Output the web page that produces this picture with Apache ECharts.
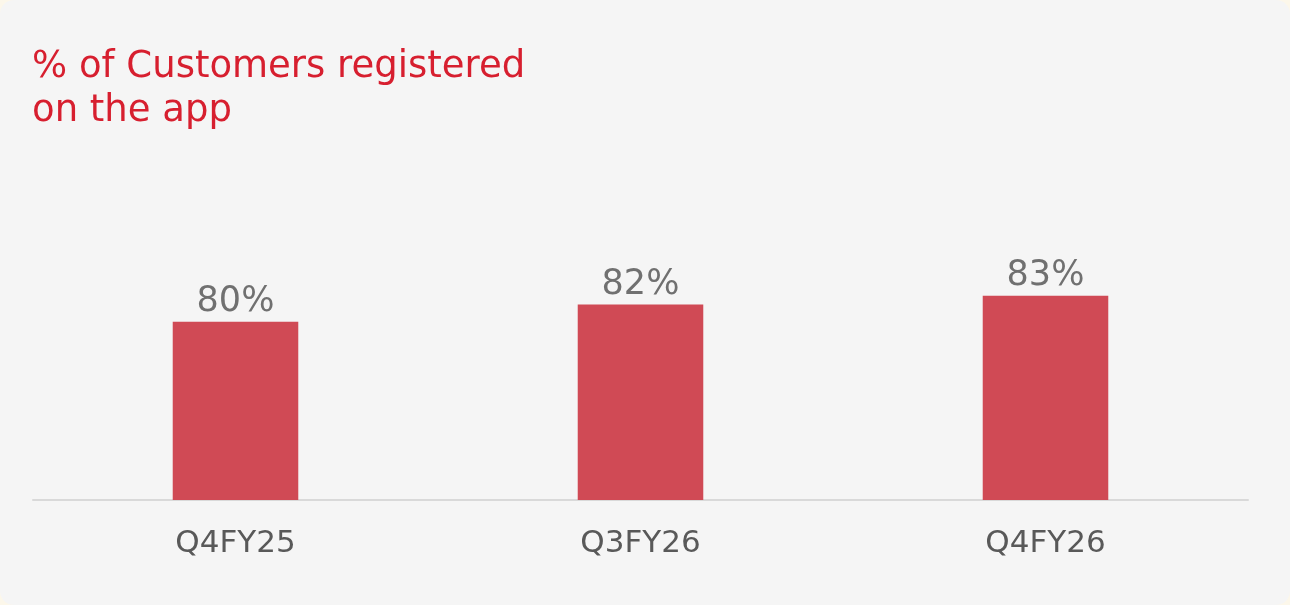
<!DOCTYPE html>
<html>
<head>
<meta charset="utf-8">
<script src="https://cdn.jsdelivr.net/npm/echarts@6/dist/echarts.min.js"></script>
<style>
  html, body { margin: 0; padding: 0; background: #fcf7ea; }
  #chart { width: 1290px; height: 605px; background: #f5f5f5; border-radius: 14px; }
</style>
</head>
<body>
<div id="chart"></div>
<script>
var categories = ['Q4FY25', 'Q3FY26', 'Q4FY26'];
var registered = [80, 82, 83];

var mychart = echarts.init(document.getElementById('chart'));
var option = {
    title: {
        text: '% of Customers registered\non the app',
        left: 27,
        top: 40,
        textStyle: {
            color: '#d71f2f',
            fontFamily: 'DejaVu Sans',
            fontWeight: 'normal',
            fontSize: 37,
            lineHeight: 44
        }
    },
    grid: {
        left: 33,
        right: 42,
        top: 148,
        bottom: 105
    },
    xAxis: {
        type: 'category',
        data: categories,
        axisTick: { show: false },
        axisLine: { lineStyle: { color: '#d9d9d9', width: 2 } },
        axisLabel: {
            color: '#595959',
            fontFamily: 'DejaVu Sans',
            fontSize: 31,
            margin: 28
        }
    },
    yAxis: {
        type: 'value',
        min: 59.5,
        max: 100,
        show: false,
        splitLine: { show: false }
    },
    series: [
        {
            name: '% registered',
            type: 'bar',
            data: registered,
            barWidth: '31%',
            itemStyle: { color: '#d04a55' },
            label: {
                show: true,
                position: 'top',
                distance: 2,
                formatter: '{c}%',
                color: '#707070',
                fontFamily: 'DejaVu Sans',
                fontSize: 35
            }
        }
    ]
};
mychart.setOption(option);
</script>
</body>
</html>
